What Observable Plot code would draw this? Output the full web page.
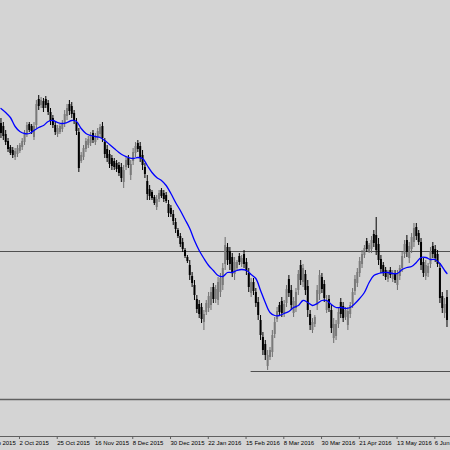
<!DOCTYPE html>
<html><head><meta charset="utf-8">
<script src="https://cdn.jsdelivr.net/npm/d3@7"></script>
<script src="https://cdn.jsdelivr.net/npm/@observablehq/plot@0.6"></script>
<style>html,body{margin:0;padding:0;background:#d4d4d4;overflow:hidden}</style>
</head><body><div id="chart"></div>
<script>
// Daily bars (price in arbitrary points), bar index 1..190
const open = [377,374,366,359,353,350,343,346,349,353,358,366,376,374,363,375,401,395,399,401,397,388,382,375,366,368,371,377,384,396,394,387,378,368,339,343,351,355,357,367,358,363,366,374,358,351,346,342,339,337,335,333,318,333,342,325,339,347,357,354,345,333,319,311,308,303,293,301,310,307,305,296,292,286,278,270,264,258,250,243,235,224,215,201,196,193,178,188,192,195,213,201,200,208,215,236,253,249,243,226,232,244,236,246,238,227,207,218,208,198,180,163,156,134,143,148,166,181,195,199,187,197,221,210,187,192,210,235,218,226,214,186,170,176,195,206,223,216,190,201,190,162,164,176,198,194,183,175,186,196,209,217,227,236,245,259,249,251,266,265,256,241,235,230,221,230,221,227,215,224,232,246,260,242,251,258,273,267,258,238,224,227,236,254,251,246,232,204,187,203];
const high = [382,378,370,362,355,353,352,355,357,362,370,378,378,376,378,400,405,403,402,404,400,392,385,378,375,376,380,390,396,400,398,390,382,372,348,355,362,364,368,370,367,372,376,378,362,355,350,345,342,340,338,337,335,343,345,340,352,358,360,358,350,337,325,315,310,305,305,310,312,310,308,300,295,290,282,272,267,262,252,245,240,228,220,205,200,197,190,200,208,213,217,215,223,227,237,263,257,253,247,243,240,247,245,250,242,232,222,222,212,203,185,168,160,150,153,170,183,193,198,203,200,215,225,215,203,212,230,240,236,230,220,190,182,185,215,230,227,220,205,205,195,182,180,192,202,198,193,193,198,212,225,232,243,250,255,262,257,264,270,283,262,245,238,233,230,233,230,230,230,235,248,260,265,258,267,277,277,270,262,242,240,237,253,258,255,250,237,208,202,210];
const low = [362,360,355,348,345,342,340,343,347,350,355,363,368,366,360,372,390,392,388,392,385,375,372,365,363,366,368,373,380,385,382,376,365,328,337,340,348,352,354,357,355,360,363,358,342,338,332,330,330,328,324,318,312,330,332,320,335,343,348,338,330,322,300,300,300,295,290,298,302,298,297,283,283,275,267,262,253,248,242,237,220,213,200,187,182,177,170,185,188,190,197,197,195,203,210,230,235,230,223,220,230,235,233,232,225,208,203,205,193,180,160,145,140,130,140,143,162,178,185,183,183,193,203,190,183,188,205,215,213,205,183,170,167,173,190,200,207,198,187,188,167,157,160,172,182,178,180,170,182,192,205,213,223,232,242,248,247,247,253,245,235,227,224,220,218,222,218,217,210,220,228,242,243,237,247,253,260,255,230,223,220,223,232,242,238,233,197,187,182,173];
const close = [367,364,358,351,347,345,349,352,355,359,366,375,370,369,374,396,394,400,392,395,388,379,375,368,372,374,377,386,392,389,386,379,369,332,345,352,359,361,365,360,364,369,373,362,346,342,336,334,333,331,327,322,330,340,335,336,348,354,351,342,335,326,306,304,302,297,301,307,304,301,299,287,286,279,271,264,256,251,244,239,225,217,205,191,186,181,186,197,204,208,201,211,218,222,232,255,240,236,228,238,238,238,242,236,229,213,218,209,197,185,165,150,145,145,150,165,178,189,188,187,196,211,207,195,199,208,226,220,232,210,190,175,178,183,210,225,211,202,200,192,172,176,176,188,186,182,190,189,195,208,221,228,239,246,252,251,255,260,257,250,240,231,227,223,227,225,227,220,226,232,244,256,248,254,263,272,264,258,235,227,235,234,249,246,242,236,202,192,196,180];

// Moving average (bar index, value)
const maBar = [1,3,5,7,9,11,13,15,17,19,21,23,25,27,29,31,33,35,37,39,41,43,45,47,49,51,53,55,57,59,61,63,65,67,69,71,73,75,77,79,81,83,85,87,89,91,93,95,97,99,101,103,105,107,109,111,113,115,117,119,121,123,125,127,129,131,133,135,137,139,141,143,145,147,149,151,153,155,157,159,161,163,165,167,169,171,173,175,177,179,181,183,185,187,189,190];
const maValue = [392,388,383,374,369,367,367,370,373,375,379,380,378,377,378,380,379,372,367,365,364,363,360,356,352,348,345,343,342,343,342,335,328,323,320,315,307,298,290,281,272,260,250,242,235,230,225,224,228,228,230,231,230,226,222,210,198,188,185,185,187,189,193,195,200,198,195,197,200,200,196,193,193,192,193,197,202,208,218,225,227,228,228,227,227,231,233,234,238,243,243,241,241,237,230,227];

// Horizontal levels
const levelUpper = 249;
const levelSupport = 129;
const levelSupportStart = 107;
const levelLower = 101;

// Time axis
const tickBars = [-8,8,24,40,56,72,88,104,120,136,152,168,184];
const tickLabels = ["10 Sep 2015","2 Oct 2015","25 Oct 2015","16 Nov 2015","8 Dec 2015","30 Dec 2015","22 Jan 2016","15 Feb 2016","8 Mar 2016","30 Mar 2016","21 Apr 2016","13 May 2016","6 Jun 2016"];

const bars = high.map((h, k) => ({bar: k + 1, open: open[k], high: h, low: low[k], close: close[k]}));
const upBars = bars.filter(d => d.close >= d.open);
const downBars = bars.filter(d => d.close < d.open);
const ma = maBar.map((b, k) => ({bar: b, value: maValue[k]}));
const labelOf = new Map(tickBars.map((b, k) => [b, tickLabels[k]]));
const xMax = 191.485;

const chart = Plot.plot({
  width: 450, height: 450,
  marginTop: 0, marginRight: 0, marginLeft: 0, marginBottom: 14,
  style: {background: "#d4d4d4", fontFamily: "'Liberation Sans', Arial, sans-serif", fontSize: "6px", color: "#000"},
  x: {domain: [0.805, xMax], axis: null, label: null},
  y: {domain: [64, 500], axis: null, label: null},
  marks: [
    Plot.ruleY([levelUpper], {stroke: "#505050", strokeWidth: 1}),
    Plot.ruleY([levelSupport], {x1: levelSupportStart, x2: xMax, stroke: "#505050", strokeWidth: 1}),
    Plot.ruleY([levelLower], {stroke: "#606060", strokeWidth: 1.5}),
    Plot.ruleX(upBars, {x: "bar", y1: "low", y2: "high", stroke: "#6e6e6e", strokeWidth: 1}),
    Plot.ruleX(upBars, {x: "bar", y1: "open", y2: "close", stroke: "#7a7a7a", strokeWidth: 2}),
    Plot.ruleX(downBars, {x: "bar", y1: "low", y2: "high", stroke: "#000", strokeWidth: 1}),
    Plot.ruleX(downBars, {x: "bar", y1: "open", y2: "close", stroke: "#000", strokeWidth: 2}),
    Plot.line(ma, {x: "bar", y: "value", stroke: "#0000ff", strokeWidth: 1.3, curve: "catmull-rom"}),
    Plot.ruleY([64], {stroke: "#606060", strokeWidth: 1}),
    Plot.axisX(tickBars, {anchor: "bottom", label: null, tickSize: 3, tickPadding: 1, textAnchor: "start", dx: 2,
      stroke: "#606060", fontSize: 6, tickFormat: d => labelOf.get(d), fill: "#000"})
  ]
});
document.getElementById("chart").appendChild(chart);
</script>
</body></html>
